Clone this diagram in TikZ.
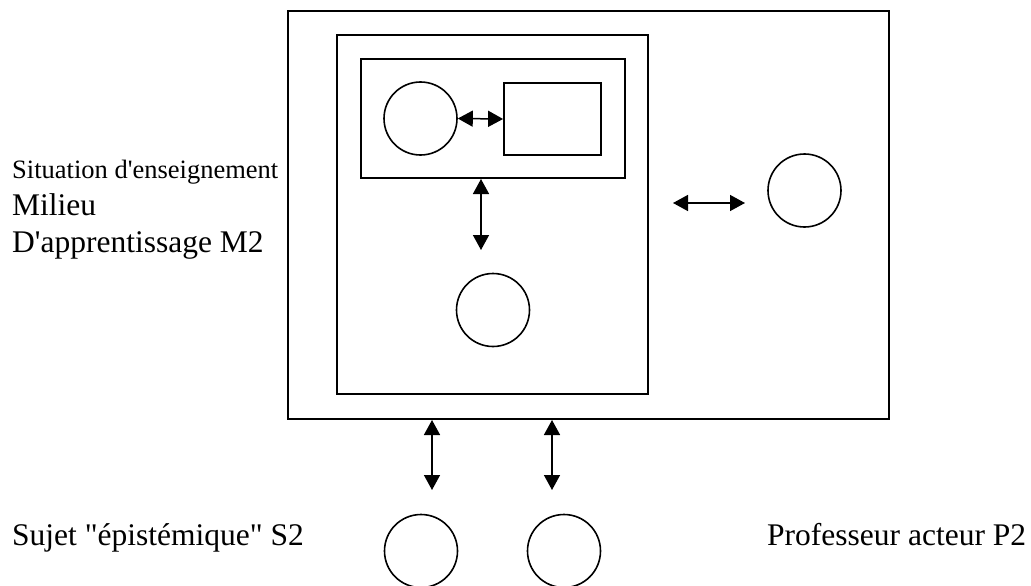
\documentclass[tikz,border=0pt]{standalone}
\usepackage{fontspec}
\setmainfont{Liberation Serif}[Ligatures=TeXOff]
\usetikzlibrary{arrows.meta}
\begin{document}
\begin{tikzpicture}[x=1pt,y=-1pt,
  box/.style={draw,line width=1.8pt},
  ring/.style={draw,line width=1.6pt,circle,minimum size=73pt,inner sep=0pt},
  link/.style={line width=1.5pt,{Triangle[length=15pt,width=16pt]}-{Triangle[length=15pt,width=16pt]}},
  small/.style={font=\fontsize{26.5}{30}\selectfont,anchor=base west,inner sep=0pt},
  big/.style={font=\fontsize{31.5}{36}\selectfont,anchor=base west,inner sep=0pt}]
\useasboundingbox (0,0) rectangle (1031,586);
% rectangles
\draw[box] (288,11) rectangle (889,419);
\draw[box] (337,35) rectangle (648,394);
\draw[box] (361,59) rectangle (625,178);
\node[box,minimum width=97pt,minimum height=72pt,inner sep=0pt] (obj) at (552.5,119) {};
% circles
\node[ring] (c1) at (420.5,118.5) {};
\node[ring] (c2) at (493,310) {};
\node[ring] (c3) at (804.5,190.5) {};
\node[ring] (c4) at (421,551) {};
\node[ring] (c5) at (564,551) {};
% arrows
\draw[link] (c1.east) -- (obj.west);
\coordinate (v1a) at (481,179);
\coordinate (v1b) at (481,250);
\draw[link] (v1a) -- (v1b);
\coordinate (h1a) at (673,203);
\coordinate (h1b) at (745,203);
\draw[link] (h1a) -- (h1b);
\coordinate (b1a) at (432,420);
\coordinate (b1b) at (432,490);
\draw[link] (b1a) -- (b1b);
\coordinate (b2a) at (552,420);
\coordinate (b2b) at (552,490);
\draw[link] (b2a) -- (b2b);
% texts
\node[small] (t1) at (12,178) {Situation d'enseignement};
\node[big] (t2) at (12,215) {Milieu};
\node[big] (t3) at (12,252) {D'apprentissage M2};
\node[big] (t4) at (12,545) {Sujet "épistémique" S2};
\node[big] (t5) at (767,545) {Professeur acteur P2};
\end{tikzpicture}
\end{document}
